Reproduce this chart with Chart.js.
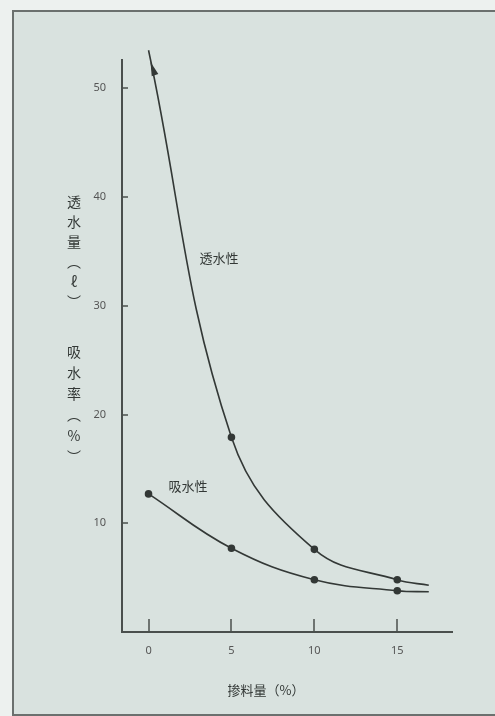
<!DOCTYPE html>
<html>
<head>
<meta charset="utf-8">
<script src="https://cdn.jsdelivr.net/npm/chart.js@4"></script>
<style>
  html, body { margin: 0; padding: 0; background: #edf1ef; }
  #frame {
    position: absolute; left: 12px; top: 10px; width: 483px; height: 702px;
    background: #d9e2df;
    border-left: 2px solid #6b706e; border-top: 2px solid #6b706e; border-bottom: 2px solid #6b706e;
  }
  #myChart { position: absolute; left: 0; top: 0; }
</style>
</head>
<body>
<div id="frame"></div>
<canvas id="myChart" width="495" height="716"></canvas>
<script>
// data
const xTickValues = [0, 5, 10, 15];
const yTickValues = [10, 20, 30, 40, 50];
const permeX = [0, 5, 10, 15, 16.9];
const permeY = [53.5, 17.9, 7.6, 4.8, 4.3];
const absorbX = [0, 5, 10, 15, 16.9];
const absorbY = [12.7, 7.7, 4.8, 3.8, 3.7];
const seriesNames = ['透水性', '吸水性'];
const yTitleTop = ['透', '水', '量', '︵', 'ℓ', '︶'];
const yTitleBottom = ['吸', '水', '率', '︵', '%', '︶'];
const xTitle = '掺料量（%）';

const ink = '#333836';
const cjk = '"Noto Sans CJK SC", sans-serif';

function toPoints(xs, ys) {
    return xs.map((x, i) => ({ x: x, y: ys[i] }));
}

// inside tick marks, arrow head + hand-placed text labels
const decorations = {
    id: 'decorations',
    afterDraw(chart) {
        const c = chart.ctx;
        const a = chart.chartArea;
        const xs = chart.scales.x, ys = chart.scales.y;
        c.save();
        c.strokeStyle = '#4a4f4d';
        c.lineWidth = 1.5;
        xTickValues.forEach(v => {
            const px = Math.round(xs.getPixelForValue(v));
            c.beginPath(); c.moveTo(px, a.bottom - 13); c.lineTo(px, a.bottom + 1); c.stroke();
        });
        yTickValues.forEach(v => {
            const py = Math.round(ys.getPixelForValue(v));
            c.beginPath(); c.moveTo(a.left, py); c.lineTo(a.left + 6, py); c.stroke();
        });

        // arrow head near the top of the 透水性 curve
        const p0 = chart.getDatasetMeta(0).data[0];
        const p1 = chart.getDatasetMeta(0).data[1];
        const ang = Math.atan2(p0.y - p1.y, p0.x - p1.x) - 0.12;
        const tipX = p0.x + Math.cos(ang) * -6, tipY = p0.y + Math.sin(ang) * -6 + 6;
        c.fillStyle = ink;
        c.beginPath();
        c.moveTo(tipX, tipY);
        c.lineTo(tipX - Math.cos(ang) * 14 + Math.sin(ang) * 3.5, tipY - Math.sin(ang) * 14 - Math.cos(ang) * 3.5);
        c.lineTo(tipX - Math.cos(ang) * 14 - Math.sin(ang) * 3.5, tipY - Math.sin(ang) * 14 + Math.cos(ang) * 3.5);
        c.closePath();
        c.fill();

        c.textAlign = 'center';
        c.textBaseline = 'middle';
        c.font = '14px ' + cjk;
        yTitleTop.forEach((ch, i) => c.fillText(ch, 74, 202 + i * 20));
        yTitleBottom.forEach((ch, i) => c.fillText(ch, 74, 352 + i * 21));

        c.font = '13px ' + cjk;
        c.fillText(seriesNames[0], 219, 258);
        c.fillText(seriesNames[1], 188, 486);
        c.fillText(xTitle, 266, 690);
        c.restore();
    }
};

document.addEventListener('DOMContentLoaded', function() {
    const ctx = document.getElementById('myChart').getContext('2d');
    new Chart(ctx, {
        type: 'line',
        data: {
            datasets: [{
                label: seriesNames[0],
                data: toPoints(permeX, permeY),
                borderColor: ink,
                backgroundColor: ink,
                borderWidth: 1.6,
                tension: 0.4,
                pointRadius: [0, 3, 3, 3, 0],
                clip: false
            }, {
                label: seriesNames[1],
                data: toPoints(absorbX, absorbY),
                borderColor: ink,
                backgroundColor: ink,
                borderWidth: 1.6,
                tension: 0.4,
                pointRadius: [3, 3, 3, 3, 0],
                clip: false
            }]
        },
        options: {
            responsive: false,
            animation: false,
            layout: { padding: { left: 0, top: 60, right: 43, bottom: 0 } },
            plugins: { legend: { display: false }, tooltip: { enabled: false } },
            scales: {
                x: {
                    type: 'linear',
                    min: -1.6,
                    max: 18.3,
                    afterBuildTicks: s => { s.ticks = xTickValues.map(v => ({ value: v })); },
                    afterFit: s => { s.height = 84; },
                    grid: { display: false },
                    border: { color: '#4a4f4d', width: 2 },
                    ticks: { color: '#555', font: { family: 'Noto Sans', size: 11 }, padding: 4 }
                },
                y: {
                    min: 0,
                    max: 52.6,
                    afterBuildTicks: s => { s.ticks = yTickValues.map(v => ({ value: v })); },
                    afterFit: s => { s.width = 122; },
                    grid: { display: false },
                    border: { color: '#4a4f4d', width: 2 },
                    ticks: { color: '#555', font: { family: 'Noto Sans', size: 11 }, padding: 8 }
                }
            }
        },
        plugins: [decorations]
    });
});
</script>
</body>
</html>
